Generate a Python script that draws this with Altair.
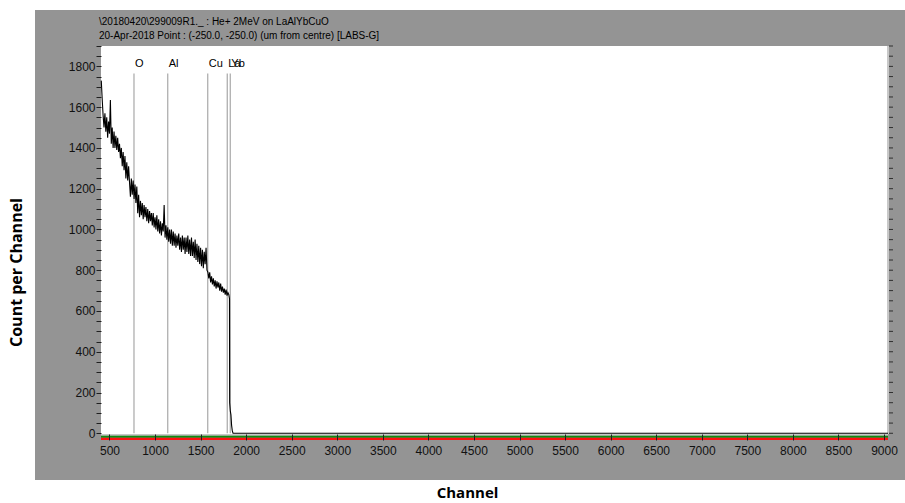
import altair as alt
import pandas as pd

# ---- spectrum (counts per channel) ----
spectrum_start = 410
spectrum_step = 10
spectrum_counts = [
    1730, 1640, 1560, 1500, 1570, 1480, 1550, 1450, 1530, 1470,
    1635, 1420, 1500, 1400, 1480, 1400, 1460, 1390, 1450, 1380,
    1420, 1350, 1400, 1310, 1380, 1290, 1360, 1250, 1330, 1240,
    1310, 1230, 1160, 1250, 1170, 1240, 1150, 1220, 1130, 1210,
    1080, 1170, 1060, 1140, 1070, 1130, 1050, 1120, 1060, 1110,
    1040, 1100, 1030, 1090, 1040, 1080, 1020, 1080, 1010, 1060,
    1000, 1070, 990, 1050, 980, 1040, 970, 1030, 990, 1120,
    960, 1020, 950, 1010, 940, 1000, 930, 1000, 920, 990,
    920, 980, 910, 970, 920, 980, 900, 960, 890, 970,
    900, 960, 880, 960, 890, 970, 880, 950, 870, 960,
    870, 940, 860, 950, 850, 930, 840, 920, 830, 910,
    820, 900, 810, 890, 830, 910, 800, 790, 760, 790,
    740, 770, 730, 760, 720, 750, 710, 745, 715, 740,
    700, 735, 695, 720, 690, 710, 680, 705, 675, 690,
    680,
]
# trailing edge of the spectrum and the empty channels after it
edge_channels = [1817, 1819, 1826, 1833, 1840, 1848, 1856, 9044]
edge_counts = [660, 150, 110, 90, 40, 12, 0, 0]

spectrum_channels = [spectrum_start + i * spectrum_step for i in range(len(spectrum_counts))]
spec_df = pd.DataFrame({
    "channel": spectrum_channels + edge_channels,
    "count": spectrum_counts + edge_counts,
})

# ---- element edge markers ----
element_names = ["O", "Al", "Cu", "La", "Yb"]
element_channels = [769, 1139, 1578, 1793, 1826]
elem_df = pd.DataFrame({"element": element_names, "channel": element_channels})

# ---- detector baseline strips under the zero line ----
strip_names = ["base", "green", "red"]
strip_low = [-11.8, -21.6, -33]
strip_high = [-3.4, -11.8, -21.6]
strip_colors = ["#c8c8c8", "#108a10", "#ff1010"]
strip_df = pd.DataFrame({"strip": strip_names, "lo": strip_low, "hi": strip_high})

# ---- axes ----
x_ticks = [500, 1000, 1500, 2000, 2500, 3000, 3500, 4000, 4500, 5000,
           5500, 6000, 6500, 7000, 7500, 8000, 8500, 9000]
y_ticks = [0, 50, 100, 150, 200, 250, 300, 350, 400, 450, 500, 550, 600, 650,
           700, 750, 800, 850, 900, 950, 1000, 1050, 1100, 1150, 1200, 1250,
           1300, 1350, 1400, 1450, 1500, 1550, 1600, 1650, 1700, 1750, 1800,
           1850, 1900]
x_domain = [407, 9044]
y_domain = [-33, 1900]

header_lines = [
    "\\20180420\\299009R1._ :  He+ 2MeV on LaAlYbCuO",
    "20-Apr-2018  Point : (-250.0, -250.0)  (um from centre) [LABS-G]",
]

NARROW = "Liberation Sans Narrow, Arial Narrow, Liberation Sans, sans-serif"
BOLD = "Open Sans, Noto Sans, sans-serif"
W, H = 787, 394

x_scale = alt.Scale(domain=x_domain, nice=False, zero=False)
y_scale = alt.Scale(domain=y_domain, nice=False, zero=False)

x_axis = alt.Axis(
    values=x_ticks, format="d", tickSize=6, tickColor="#202020", offset=-6,
    domain=False, grid=False, labelFont=NARROW, labelFontSize=12, labelColor="#111111",
    labelPadding=5, labelFlush=False, labelOverlap=False,
    title="Channel", titleFont=BOLD, titleFontSize=15, titleFontWeight="bold",
    titleColor="black", titleX=366, titleY=58, titleAlign="center",
    titleBaseline="middle", zindex=1,
)
y_axis = alt.Axis(
    values=y_ticks, format="d",
    labelExpr="datum.value % 200 == 0 ? datum.label : ''",
    tickSize=5, tickColor="#202020", domain=False, grid=False,
    labelFont=NARROW, labelFontSize=12, labelColor="#111111", labelPadding=1,
    labelFlush=False, labelOverlap=False,
    title="Count per Channel", titleFont=BOLD, titleFontSize=16,
    titleFontWeight="bold", titleColor="black", titleX=-85, titleY=226,
    titleAngle=270, titleAlign="center", titleBaseline="middle", zindex=1,
)

one_row = pd.DataFrame({"k": [0]})
tick_df = pd.DataFrame({"v": y_ticks})

# grey instrument panel behind everything
panel = alt.Chart(one_row).mark_rect(color="#949494").encode(
    x=alt.value(-66), x2=alt.value(W + 17),
    y=alt.value(-36), y2=alt.value(H + 40),
)

# white plotting field
field = alt.Chart(one_row).mark_rect(color="white").encode(
    x=alt.datum(x_domain[0], scale=x_scale, axis=x_axis), x2=alt.datum(x_domain[1]),
    y=alt.datum(y_domain[1], scale=y_scale, axis=y_axis), y2=alt.datum(strip_high[0]),
)

strips = alt.Chart(strip_df).mark_rect().encode(
    x=alt.datum(x_domain[0], scale=x_scale, axis=x_axis), x2=alt.datum(x_domain[1]),
    y=alt.Y("hi:Q", scale=y_scale, axis=y_axis), y2="lo:Q",
    color=alt.Color("strip:N", scale=alt.Scale(domain=strip_names, range=strip_colors), legend=None),
)

# right-hand frame edge and its small count ticks
right_edge = alt.Chart(one_row).mark_rule(color="#c8c8c8", strokeWidth=2).encode(
    x=alt.datum(x_domain[1], scale=x_scale, axis=x_axis),
    y=alt.datum(y_domain[1], scale=y_scale, axis=y_axis),
    y2=alt.datum(strip_high[0]),
)
right_ticks = alt.Chart(tick_df).mark_rule(
    color="#303030", strokeWidth=1, xOffset=1, x2Offset=5
).encode(
    x=alt.datum(x_domain[1], scale=x_scale, axis=x_axis),
    x2=alt.datum(x_domain[1]),
    y=alt.Y("v:Q", scale=y_scale, axis=y_axis),
)

markers = alt.Chart(elem_df).mark_rule(color="#b4b4b4", strokeWidth=1.4).encode(
    x=alt.X("channel:Q", scale=x_scale, axis=x_axis),
    y=alt.datum(1765, scale=y_scale, axis=y_axis),
    y2=alt.datum(0),
)

marker_labels = alt.Chart(elem_df).mark_text(
    align="left", baseline="alphabetic", dx=1, font=NARROW, fontSize=11, color="black"
).encode(
    x=alt.X("channel:Q", scale=x_scale, axis=x_axis),
    y=alt.datum(1795, scale=y_scale, axis=y_axis),
    text="element:N",
)

spectrum = alt.Chart(spec_df).mark_line(color="black", strokeWidth=1.1, interpolate="linear").encode(
    x=alt.X("channel:Q", scale=x_scale, axis=x_axis),
    y=alt.Y("count:Q", scale=y_scale, axis=y_axis),
    order="channel:Q",
)

# run header printed in the grey band above the plot
header = alt.Chart(one_row).mark_text(
    text=header_lines, align="left", baseline="alphabetic", lineHeight=14,
    font=NARROW, fontSize=10, color="black",
).encode(x=alt.value(-2), y=alt.value(-21))

chart = (
    alt.layer(panel, field, strips, right_edge, right_ticks, markers,
              marker_labels, spectrum, header)
    .properties(
        width=W, height=H,
        autosize=alt.AutoSizeParams(type="none"),
        padding={"left": 101, "top": 46, "right": 17, "bottom": 63},
        background="white",
    )
    .configure_view(stroke=None)
)

chart.save("out.html", embed_options={"renderer": "svg", "actions": False})
